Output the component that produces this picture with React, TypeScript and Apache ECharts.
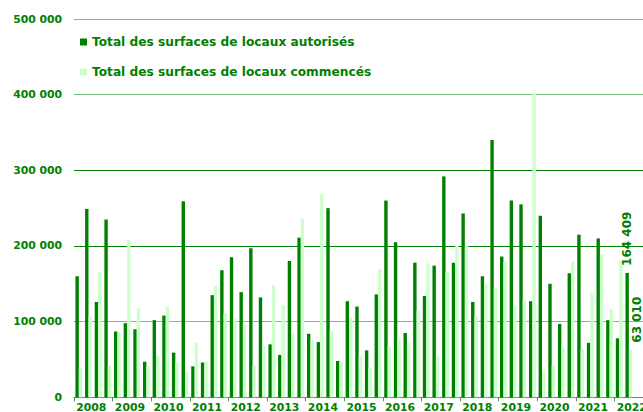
import React, { useEffect, useRef } from "react";
import * as echarts from "echarts";

const years: string[] = ["2008", "2009", "2010", "2011", "2012", "2013", "2014", "2015", "2016", "2017", "2018", "2019", "2020", "2021", "2022"];
const quarterNames: string[] = ["T1", "T2", "T3", "T4"];

const autorises: number[] = [
  160000, 249000, 126000, 235000,
  87000, 98000, 90000, 47000,
  102000, 108000, 59000, 259000,
  41000, 46000, 135000, 168000,
  185000, 139000, 197000, 132000,
  70000, 56000, 180000, 211000,
  84000, 73000, 250000, 48000,
  127000, 120000, 62000, 136000,
  260000, 205000, 85000, 178000,
  134000, 174000, 292000, 178000,
  243000, 126000, 160000, 340000,
  186000, 260000, 255000, 127000,
  240000, 150000, 97000, 164000,
  215000, 72000, 210000, 102000,
  78000, 164409,
];

const commences: number[] = [
  38000, 107000, 166000, 42000,
  86000, 208000, 118000, 41000,
  55000, 120000, 46000, 33000,
  72000, 47000, 147000, 111000,
  105000, 96000, 42000, 68000,
  148000, 122000, 85000, 236000,
  76000, 269000, 88000, 47000,
  106000, 55000, 39000, 170000,
  67000, 77000, 72000, 114000,
  177000, 55000, 166000, 200000,
  200000, 107000, 150000, 145000,
  179000, 121000, 129000, 403000,
  34000, 42000, 66000, 179000,
  64000, 138000, 189000, 116000,
  181000, 63010,
];

const seriesNames: string[] = [
  "Total des surfaces de locaux autorisés",
  "Total des surfaces de locaux commencés",
];

const GREEN = "#008000";
const LIGHT = "#ccffcc";
const FONT = "DejaVu Sans";

const fmt = (v: number) => String(Math.round(v)).replace(/\B(?=(\d{3})+(?!\d))/g, " ");

export default function App() {
  const ref = useRef<HTMLDivElement>(null);

  useEffect(() => {
    if (!ref.current) return;
    const chart = echarts.init(ref.current, undefined, { renderer: "svg" });
    const quarters = years.flatMap((y) => quarterNames.map((q) => `${y} ${q}`));

    const withLastLabel = (arr: number[], offset: number[]) =>
      arr.map((v, i) =>
        i === arr.length - 1
          ? {
              value: v,
              label: {
                show: true,
                position: "top",
                rotate: 90,
                align: "left",
                verticalAlign: "middle",
                distance: 7,
                offset,
                formatter: (p: any) => fmt(p.value),
                color: GREEN,
                fontFamily: FONT,
                fontWeight: "bold",
                fontSize: 12,
              },
            }
          : v
      );

    chart.setOption({
      animation: false,
      backgroundColor: "#ffffff",
      grid: {
        left: 74,
        top: 19,
        width: 579,
        height: 378.3,
        containLabel: false,
        outerBoundsMode: "none",
      },
      legend: {
        show: true,
        orient: "vertical",
        left: 80,
        top: 35,
        padding: 0,
        itemWidth: 7,
        itemHeight: 7,
        itemGap: 16,
        icon: "rect",
        data: seriesNames,
        textStyle: {
          color: GREEN,
          fontFamily: FONT,
          fontWeight: "bold",
          fontSize: 12.2,
          lineHeight: 14,
        },
      },
      xAxis: [
        {
          type: "category",
          position: "top",
          data: quarters,
          show: false,
          boundaryGap: true,
        },
        {
          type: "category",
          position: "bottom",
          data: years,
          boundaryGap: true,
          axisLine: { show: true, lineStyle: { color: "#3f9f3f", width: 1 } },
          axisTick: { show: true, length: 4, lineStyle: { color: "#3f9f3f" } },
          axisLabel: {
            margin: 5,
            color: GREEN,
            fontFamily: FONT,
            fontWeight: "bold",
            fontSize: 10.8,
            padding: [0, 4, 0, 0],
            interval: 0,
          },
          splitLine: { show: false },
        },
      ],
      yAxis: {
        type: "value",
        min: 0,
        max: 500000,
        interval: 100000,
        axisLine: { show: false },
        axisTick: { show: false },
        axisLabel: {
          margin: 12,
          color: GREEN,
          fontFamily: FONT,
          fontWeight: "bold",
          fontSize: 10.8,
          formatter: (v: number) => fmt(v),
        },
        splitLine: {
          show: true,
          lineStyle: {
            color: ["#3f9f3f", "#7fbf7f", GREEN, GREEN, "#7fbf7f", "#7fbf7f"],
            width: 1,
          },
        },
      },
      series: [
        {
          name: seriesNames[0],
          type: "bar",
          xAxisIndex: 0,
          yAxisIndex: 0,
          barWidth: 3.4,
          barGap: "0%",
          itemStyle: { color: GREEN },
          data: withLastLabel(autorises, [0, 0]),
        },
        {
          name: seriesNames[1],
          type: "bar",
          xAxisIndex: 0,
          yAxisIndex: 0,
          barWidth: 3.4,
          barGap: "0%",
          itemStyle: { color: LIGHT },
          data: withLastLabel(commences, [0, 6]),
        },
      ],
    });

    return () => chart.dispose();
  }, []);

  return (
    <div
      ref={ref}
      style={{ position: "fixed", left: 0, top: 0, width: 643, height: 412, background: "#fff" }}
    />
  );
}
